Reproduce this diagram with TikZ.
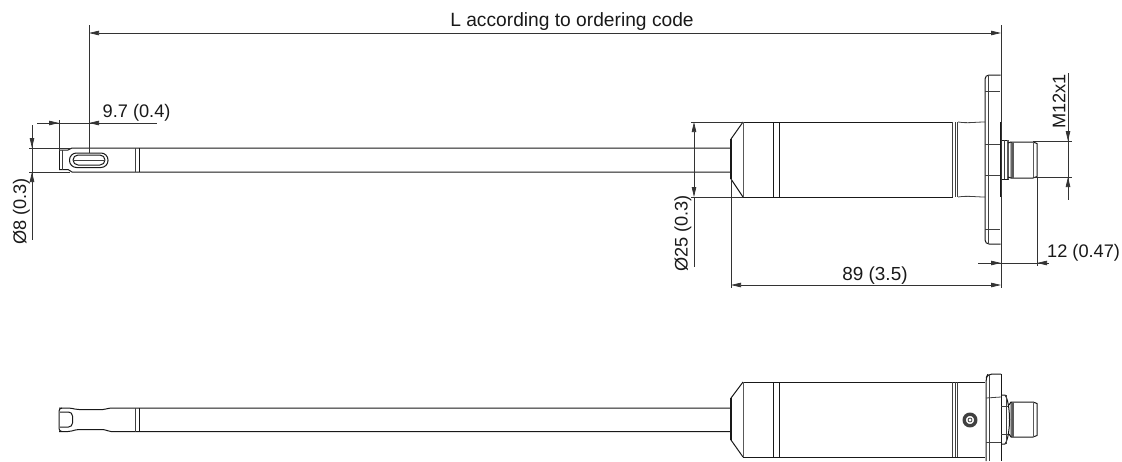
\documentclass[tikz,border=0pt]{standalone}
\usepackage{fontspec}
\setmainfont{Liberation Sans}
\usetikzlibrary{arrows.meta}
\tikzset{
  part/.style={draw=black!90,line width=1pt,line join=round},
  thin part/.style={draw=black!75,line width=0.8pt},
  heavy/.style={draw=black!65,line width=1.8pt},
  dim/.style={draw=black!80,line width=0.75pt},
  tip/.style={-{Triangle[length=10pt,width=4.5pt]}},
  both tips/.style={{Triangle[length=10pt,width=4.5pt]}-{Triangle[length=10pt,width=4.5pt]}},
  lbl/.style={font=\fontsize{18.2}{20}\selectfont,inner sep=0pt,text=black!90},
  lblv/.style={lbl,rotate=90}
}
\begin{document}
\begin{tikzpicture}[x=1pt,y=-1pt]
\useasboundingbox (0,0) rectangle (1122,461);
% ---------- top view: probe
\draw[part] (59,150) -- (68,150) -- (72,148) -- (731,148);
\draw[part] (59,169.5) -- (68,169.5) -- (72,172) -- (731,172);
\draw[part] (59,150) -- (59,169.5);
\draw[thin part] (62,150) -- (62,169.5);
\draw[part,rounded corners=7pt] (69.5,153) rectangle (108,167.5);
\draw[part,rounded corners=5pt] (73,155) rectangle (105,165);
\draw[thin part] (73,160) -- (105,160);
\draw[thin part] (135,148) -- (135,172);
\draw[part,line width=1.4pt] (139.5,148) -- (139.5,172);
% body
\draw[part] (743,122) -- (953,122);
\draw[part] (743,197) -- (953,197);
\draw[part] (731,139) -- (743,122);
\draw[part] (731,179) -- (743,197);
\draw[part,line width=1.4pt] (731,139) -- (731,179);
\draw[heavy] (743.5,122) -- (743.5,197);
\draw[part] (773.5,122) -- (773.5,197);
\draw[part] (779.5,122) -- (779.5,197);
\draw[thin part,line width=1.1pt] (952.5,122) -- (952.5,197);
\draw[thin part] (955,122) -- (955,197);
\draw[thin part,line width=1.1pt] (957.5,122) -- (957.5,197);
\draw[thin part] (958,122) .. controls (968,123.5) and (975,122) .. (985,122);
\draw[thin part] (958,197) .. controls (968,195.5) and (975,197) .. (985,197);
% flange
\draw[part,rounded corners=4pt] (1000.5,75) -- (985,75) -- (985,244) -- (1000.5,244);
\draw[thin part] (988,75) -- (988,244);
\draw[thin part] (985,91) -- (1000,91);
\draw[thin part] (985,144) -- (1000,144);
\draw[thin part] (985,175) -- (1000,175);
\draw[thin part] (985,229) -- (1000,229);
\draw[part,line width=1.4pt] (1000.7,122) -- (1000.7,197);
% connector
\draw[part] (1001,140) -- (1008,140) -- (1008,179) -- (1001,179);
\draw[thin part] (1004,140) -- (1004,179);
\draw[heavy,line width=1.3pt] (1008,140) -- (1008,179);
\draw[part] (1008,143) -- (1011,142);
\draw[part] (1008,177) -- (1011,178);
\draw[part] (1011,142) -- (1033,142) -- (1037,143.5) -- (1037,176.5) -- (1033,178) -- (1011,178) -- cycle;
\draw[heavy,line width=1.4pt] (1033.5,142) -- (1033.5,178);
\draw[heavy,line width=1.4pt] (1013,142) -- (1013,178);
% ---------- dimensions top
\coordinate (Ll) at (89,33);
\coordinate (Lr) at (1001,33);
\draw[dim] (89,25) -- (89,153);
\draw[dim] (1001,25) -- (1001,288);
\draw[dim,both tips] (Ll) -- (Lr);
\node[lbl,font=\fontsize{19.2}{20}\selectfont] (ltext) at (572,21.5) {L according to ordering code};
% 9.7
\draw[dim] (59,120) -- (59,151);
\draw[dim] (37,123) -- (157,123);
\draw[dim,tip] (47,123) -- (59,123);
\draw[dim,tip] (101,123) -- (89,123);
\node[lbl,anchor=west] (a) at (102.5,112.5) {9.7 (0.4)};
% Ø8
\draw[dim] (29,148) -- (70,148);
\draw[dim] (29,172) -- (70,172);
\draw[dim] (32,125) -- (32,240);
\draw[dim,tip] (32,136) -- (32,148);
\draw[dim,tip] (32,184) -- (32,172);
\node[lblv] (b) at (21.5,211.5) {Ø8 (0.3)};
% Ø25
\draw[dim] (691,122) -- (743,122);
\draw[dim] (691,197) -- (743,197);
\draw[dim,both tips] (694,122) -- (694,197);
\draw[dim] (694,197) -- (694,267);
\node[lblv] (c) at (683,233.5) {Ø25 (0.3)};
% 89
\draw[dim] (731,179) -- (731,288);
\draw[dim,both tips] (731,285) -- (1001,285);
\node[lbl,font=\fontsize{18.9}{20}\selectfont] (d) at (875,275.5) {89 (3.5)};
% 12
\draw[dim] (1037,177) -- (1037,266);
\draw[dim] (978,263) -- (1048,263);
\draw[dim,tip] (989,263) -- (1001,263);
\draw[dim,tip] (1049,263) -- (1037,263);
\node[lbl,anchor=west] (e) at (1047,252.5) {12 (0.47)};
% M12x1
\draw[dim] (1033,141) -- (1072,141);
\draw[dim] (1033,177) -- (1072,177);
\draw[dim] (1068,73) -- (1068,200);
\draw[dim,tip] (1068,129) -- (1068,141);
\draw[dim,tip] (1068,189) -- (1068,177);
\node[lblv] (f) at (1059,101.5) {M12x1};
% ---------- bottom view
\draw[part,rounded corners=2pt] (59,408) -- (70,408) -- (77,409.5) -- (105,409.5) -- (109,408) -- (731,408);
\draw[part,rounded corners=2pt] (59,431.5) -- (70,431.5) -- (77,429.5) -- (105,429.5) -- (109,431.5) -- (731,431.5);
\draw[part,rounded corners=3pt] (62,408) -- (59,408) -- (59,431.5) -- (62,431.5);
\draw[part,rounded corners=4pt] (60,412) -- (72.5,412) -- (72.5,427) -- (60,427);
\draw[thin part] (135,408) -- (135,431.5);
\draw[part,line width=1.4pt] (139.5,408) -- (139.5,431.5);
\draw[part] (743,382) -- (985,382);
\draw[part] (743,457) -- (985,457);
\draw[part] (731,398) -- (743,382);
\draw[part] (731,440) -- (743,457);
\draw[part,line width=1.4pt] (731,398) -- (731,440);
\draw[heavy] (743.5,382) -- (743.5,457);
\draw[part] (773.5,382) -- (773.5,457);
\draw[part] (779.5,382) -- (779.5,457);
\draw[thin part,line width=1.1pt] (952.5,382) -- (952.5,457);
\draw[thin part] (955,382) -- (955,457);
\draw[thin part,line width=1.1pt] (957.5,382) -- (957.5,457);
\draw[part,line width=3.4pt,draw=black!75] (970,420) circle (5.8);
\draw[thin part] (970,420) circle (2);
\draw[part,rounded corners=4pt] (1001,374) -- (988,374) -- (986,378) -- (986,461);
\draw[thin part] (989,374) -- (989,461);
\draw[thin part] (986,398) -- (1001,397);
\draw[thin part] (986,442) -- (1001,442);
\draw[part] (1001,374) -- (1001,461);
\draw[part] (1001,395) -- (1005,395) .. controls (1008,399) and (1009.5,410) .. (1009.5,419.5) .. controls (1009.5,429) and (1008,440) .. (1005,444) -- (1001,444);
\draw[thin part] (1006,395) -- (1006,444);
\draw[thin part] (1001,406) -- (1008,406);
\draw[thin part] (1001,434) -- (1008,434);
\draw[part] (1011,402) -- (1033,402) -- (1037,403.5) -- (1037,435.5) -- (1033,437) -- (1011,437) -- cycle;
\draw[heavy,line width=1.4pt] (1033.5,402) -- (1033.5,437);
\draw[heavy,line width=1.4pt] (1013,402) -- (1013,437);
\draw[part] (1009,405) -- (1011,402);
\draw[part] (1009,434) -- (1011,437);
\end{tikzpicture}
\end{document}
